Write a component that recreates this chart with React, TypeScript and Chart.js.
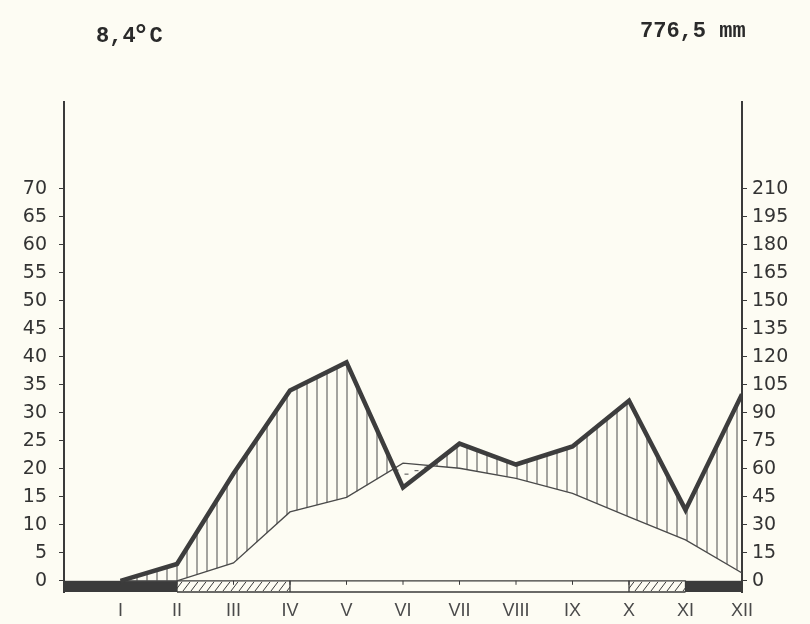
import { useEffect, useRef } from "react";
import { Chart, registerables } from "chart.js";

Chart.register(...registerables);

const months = ["I", "II", "III", "IV", "V", "VI", "VII", "VIII", "IX", "X", "XI", "XII"];
const temperature = [0, 0, 3.2, 12.3, 14.9, 21.0, 20.1, 18.3, 15.6, 11.4, 7.3, 1.4];
const precipitation = [0, 9, 57.5, 102, 117, 50, 73.5, 62.3, 72, 96.5, 38, 100];
const tempTicks = [0, 5, 10, 15, 20, 25, 30, 35, 40, 45, 50, 55, 60, 65, 70];
const precipTicks = [0, 15, 30, 45, 60, 75, 90, 105, 120, 135, 150, 165, 180, 195, 210];
const annualTemp = "8,4";
const annualTempUnit = "C";
const annualPrecip = "776,5 mm";
// frost bar: from/to in month units, kind: frost (black), probable (hatched), none (white)
const frostFrom = [0, 2, 4, 10, 11];
const frostTo = [2, 4, 10, 11, 12];
const frostKind = ["frost", "probable", "none", "probable", "frost"];

const INK = "#3a3a3a";
const PAPER = "#fdfcf3";

function interp(arr: number[], v: number) {
  const i = Math.min(Math.max(Math.floor(v) - 1, 0), arr.length - 2);
  const f = v - (i + 1);
  return arr[i] + (arr[i + 1] - arr[i]) * f;
}

const climatePlugin = {
  id: "climate",
  beforeDraw(chart: any) {
    const { ctx, width, height } = chart;
    ctx.save();
    ctx.fillStyle = PAPER;
    ctx.fillRect(0, 0, width, height);
    ctx.restore();
  },
  beforeDatasetsDraw(chart: any) {
    const { ctx, chartArea } = chart;
    const xs = chart.scales.x;
    const yT = chart.scales.y;
    const yP = chart.scales.yR;
    // hatching between curves
    ctx.save();
    ctx.strokeStyle = "#4a4a4a";
    ctx.lineWidth = 1;
    const x0 = xs.getPixelForValue(1);
    const x1 = xs.getPixelForValue(12);
    for (let px = x0 + 6; px < x1 - 1; px += 10) {
      const v = xs.getValueForPixel(px);
      const t = interp(temperature, v);
      const p = interp(precipitation, v);
      const tp = yT.getPixelForValue(t);
      const pp = yP.getPixelForValue(p);
      if (pp < tp - 1) {
        ctx.beginPath();
        ctx.moveTo(px + 0.5, pp);
        ctx.lineTo(px + 0.5, tp);
        ctx.stroke();
      } else if (tp < pp - 3) {
        ctx.beginPath();
        const my = (tp + pp) / 2;
        ctx.moveTo(px - 2, my);
        ctx.lineTo(px + 2, my);
        ctx.stroke();
      }
    }
    ctx.restore();

    // frost bar
    const yTop = yT.getPixelForValue(0);
    const yBot = chartArea.bottom;
    ctx.save();
    for (let k = 0; k < frostKind.length; k++) {
      const xa = xs.getPixelForValue(frostFrom[k]);
      const xb = xs.getPixelForValue(frostTo[k]);
      if (frostKind[k] === "frost") {
        ctx.fillStyle = "#3b3b3b";
        ctx.fillRect(xa, yTop, xb - xa, yBot - yTop);
      } else {
        ctx.strokeStyle = INK;
        ctx.lineWidth = 1.3;
        ctx.beginPath();
        ctx.moveTo(xa, yTop);
        ctx.lineTo(xb, yTop);
        ctx.moveTo(xa, yBot);
        ctx.lineTo(xb, yBot);
        ctx.stroke();
        if (frostKind[k] === "probable") {
          ctx.beginPath();
          ctx.moveTo(xa, yTop);
          ctx.lineTo(xa, yBot);
          ctx.moveTo(xb, yTop);
          ctx.lineTo(xb, yBot);
          ctx.stroke();
          ctx.save();
          ctx.beginPath();
          ctx.rect(xa, yTop, xb - xa, yBot - yTop);
          ctx.clip();
          ctx.lineWidth = 1;
          ctx.beginPath();
          for (let hx = xa - 10; hx < xb + 10; hx += 8) {
            ctx.moveTo(hx, yBot - 1);
            ctx.lineTo(hx + 7, yTop + 1);
          }
          ctx.stroke();
          ctx.restore();
        }
      }
    }
    // month marks on the bar
    ctx.strokeStyle = INK;
    ctx.lineWidth = 1;
    ctx.beginPath();
    for (let m = 1; m <= 12; m++) {
      const mx = xs.getPixelForValue(m);
      ctx.moveTo(mx, yTop);
      ctx.lineTo(mx, yTop + 4);
    }
    ctx.stroke();
    ctx.restore();
  },
  afterDraw(chart: any) {
    const { ctx } = chart;
    ctx.save();
    ctx.fillStyle = "#2a2a2a";
    ctx.textBaseline = "alphabetic";
    ctx.font = 'bold 22px "Liberation Mono"';
    ctx.fillText(annualTemp, 96, 42);
    const w = ctx.measureText(annualTemp).width;
    ctx.font = 'bold 28px "Liberation Mono"';
    ctx.fillText("°", 96 + w - 3, 44);
    ctx.font = 'bold 22px "Liberation Mono"';
    ctx.fillText(annualTempUnit, 96 + w + 14, 42);
    ctx.fillText(annualPrecip, 640, 37);
    ctx.restore();
  },
};

export default function App() {
  const ref = useRef<HTMLCanvasElement | null>(null);
  useEffect(() => {
    if (!ref.current) return;
    const tickFont = { family: '"DejaVu Sans", sans-serif', size: 19 };
    const chart = new Chart(ref.current, {
      type: "line",
      data: {
        datasets: [
          {
            label: "Precipitation",
            data: precipitation.map((v, i) => ({ x: i + 1, y: v })),
            yAxisID: "yR",
            borderColor: "#3d3d3d",
            borderWidth: 4.5,
            pointRadius: 0,
            tension: 0,
            borderJoinStyle: "miter",
          },
          {
            label: "Temperature",
            data: temperature.map((v, i) => ({ x: i + 1, y: v })),
            yAxisID: "y",
            borderColor: "#4a4a4a",
            borderWidth: 1.3,
            pointRadius: 0,
            tension: 0,
          },
        ],
      },
      options: {
        responsive: false,
        animation: false,
        devicePixelRatio: 1,
        layout: { padding: { top: 102, left: 0, right: 0, bottom: 0 } },
        plugins: { legend: { display: false }, tooltip: { enabled: false } },
        scales: {
          x: {
            type: "linear",
            min: 0,
            max: 12,
            afterBuildTicks: (s: any) => {
              s.ticks = months.map((_, i) => ({ value: i + 1 }));
            },
            afterFit: (s: any) => {
              s.height = 32;
            },
            grid: { display: false },
            border: { display: false },
            ticks: {
              callback: (v: any) => months[Number(v) - 1] ?? "",
              font: { family: '"Liberation Sans Narrow", "Liberation Sans", sans-serif', size: 18 },
              color: "#4a4a4a",
              padding: 0,
              maxRotation: 0,
              autoSkip: false,
            },
          },
          y: {
            position: "left",
            min: -2,
            max: 85.5,
            afterBuildTicks: (s: any) => {
              s.ticks = tempTicks.map((v) => ({ value: v }));
            },
            afterFit: (s: any) => {
              s.width = 64;
            },
            grid: { drawOnChartArea: false, drawTicks: true, tickLength: 5, color: INK, lineWidth: 1 },
            border: { display: true, color: INK, width: 2 },
            ticks: { font: tickFont, color: "#333", padding: 12, autoSkip: false },
          },
          yR: {
            position: "right",
            min: -6,
            max: 256.5,
            afterBuildTicks: (s: any) => {
              s.ticks = precipTicks.map((v) => ({ value: v }));
            },
            afterFit: (s: any) => {
              s.width = 68;
            },
            grid: { drawOnChartArea: false, drawTicks: true, tickLength: 5, color: INK, lineWidth: 1 },
            border: { display: true, color: INK, width: 2 },
            ticks: { font: tickFont, color: "#333", padding: 5, autoSkip: false },
          },
        },
      },
      plugins: [climatePlugin],
    } as any);
    return () => chart.destroy();
  }, []);
  return (
    <div style={{ position: "fixed", left: 0, top: 0, width: 810, height: 624, background: PAPER }}>
      <canvas ref={ref} width={810} height={624} style={{ display: "block" }} />
    </div>
  );
}
